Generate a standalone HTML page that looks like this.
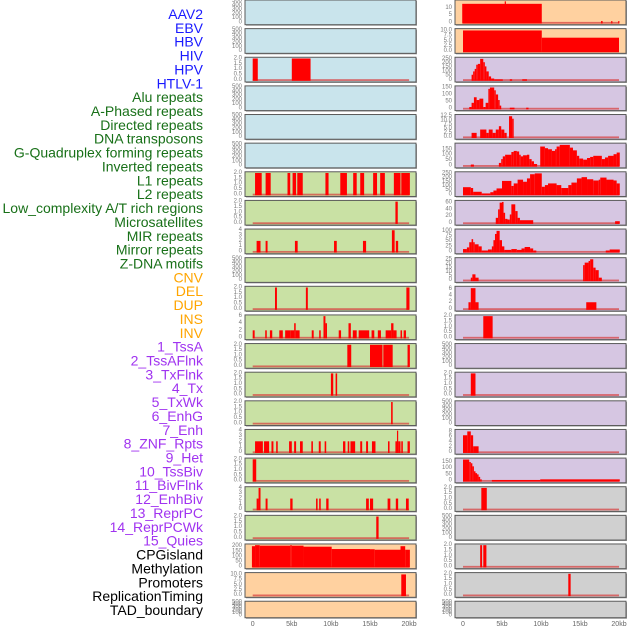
<!DOCTYPE html>
<html><head><meta charset="utf-8"><style>
html,body{margin:0;padding:0;background:#fff;}
svg{display:block;font-family:"Liberation Sans",sans-serif;}
</style></head><body>
<svg id="chart" width="630" height="630" viewBox="0 0 630 630"></svg>
<script>
// ---- labels ----
const trackLabels = ["AAV2","EBV","HBV","HIV","HPV","HTLV-1","Alu repeats","A-Phased repeats","Directed repeats","DNA transposons","G-Quadruplex forming repeats","Inverted repeats","L1 repeats","L2 repeats","Low_complexity A/T rich regions","Microsatellites","MIR repeats","Mirror repeats","Z-DNA motifs","CNV","DEL","DUP","INS","INV","1_TssA","2_TssAFlnk","3_TxFlnk","4_Tx","5_TxWk","6_EnhG","7_Enh","8_ZNF_Rpts","9_Het","10_TssBiv","11_BivFlnk","12_EnhBiv","13_ReprPC","14_ReprPCWk","15_Quies","CPGisland","Methylation","Promoters","ReplicationTiming","TAD_boundary"];
const labelGroups = ["v","v","v","v","v","v","r","r","r","r","r","r","r","r","r","r","r","r","r","s","s","s","s","s","c","c","c","c","c","c","c","c","c","c","c","c","c","c","c","o","o","o","o","o"];
const xTickLabels = ["0","5kb","10kb","15kb","20kb"];
const xTickValues = [0,5,10,15,20];

// ---- data: segments [startKb, endKb, value] ----
const L0=[],L1=[],L3=[],L4=[],L5=[],L9=[],L21=[];
const L2=[[0,0.65,2],[5.0,7.4,2]];
const L6=[[0.3,1.15,2],[1.65,2.3,2],[4.45,4.8,2],[5.1,5.55,2],[5.7,6.4,2],[9.3,9.7,2],[11.2,12.05,2],[12.85,13.3,2],[13.75,14.25,2],[15.4,15.9,2],[16.3,16.9,2],[18.05,18.9,2],[19.0,20.1,2]];
const L7=[[18.25,18.55,2]];
const L8=[[0.5,1.0,2],[1.65,1.9,2],[5.4,5.75,2],[10.4,10.75,2],[14.1,14.5,2],[17.8,18.15,4],[18.3,18.6,2]];
const L10=[[2.85,3.1,2],[6.8,7.05,2],[19.65,20.05,2]];
const L11=[[0,0.25,2],[1.6,1.8,2],[2.2,2.5,2],[3.4,3.85,2],[4.15,4.8,2],[4.8,5.3,2],[5.3,5.5,4],[5.5,6.0,2],[7.55,7.8,2],[8.5,8.7,2],[9.05,9.3,6],[9.3,9.5,4],[11.0,11.3,2],[12.25,12.55,4],[12.8,13.3,2],[13.55,14.9,2],[15.2,15.55,2],[16.0,16.4,2],[17.0,17.7,2],[17.7,18.0,4],[18.0,18.4,2],[18.9,19.1,2],[19.3,19.6,2]];
const L12=[[12.1,12.6,2],[15.0,16.6,2],[16.7,17.9,2],[19.8,20.1,2]];
const L13=[[10.0,10.3,2],[10.6,10.8,2]];
const L14=[[17.7,17.9,2]];
const L15=[[0.3,1.3,2],[1.45,2.1,2],[2.4,2.65,2],[3.0,3.2,2],[4.65,5.0,2],[5.3,5.55,2],[6.05,6.4,2],[7.5,7.7,2],[8.45,8.7,2],[9.2,9.4,2],[11.55,11.85,2],[12.15,12.35,2],[12.5,13.1,2],[13.75,14.0,2],[14.5,14.75,2],[15.25,15.7,2],[17.3,17.5,2],[18.25,18.45,2],[18.45,18.6,4],[18.6,18.9,2],[19.0,19.2,2],[19.8,20.1,2]];
const L16=[[0,0.45,2]];
const L17=[[0.5,0.75,2],[0.75,1.0,4],[1.65,1.9,2],[4.8,5.1,2],[8.1,8.3,2],[8.5,8.7,2],[9.4,9.7,2],[14.5,14.85,2],[15.0,15.4,2],[17.25,17.6,2],[18.3,18.6,2],[19.6,19.95,2]];
const L18=[[15.8,16.1,2]];
const L19=[[-0.1,0.3,200],[0.3,0.9,210],[0.9,4.8,205],[4.8,5.0,210],[5.0,6.5,205],[6.5,10.1,195],[10.1,15.0,172],[15.0,15.6,170],[15.6,18.9,165],[18.9,19.5,200],[19.5,20.1,165]];
const L20=[[19.0,19.6,10]];

const R12=[],R14=[],R18=[],R21=[];
const R0=[[-0.1,10.1,12.8],[5.35,5.45,14.5],[17.7,17.9,1],[19.0,19.15,1],[19.9,20.0,1]];
const R1=[[0,10.1,10],[10.1,20,6.5]];
const R2=[[1.1,1.3,60],[1.3,1.5,100],[1.5,1.7,130],[1.7,1.9,180],[1.9,2.2,190],[2.2,2.6,250],[2.6,2.8,210],[2.8,3.0,160],[3.0,3.3,100],[3.3,3.6,40],[3.6,4.0,15],[4.0,5.1,5],[6.0,6.3,6],[7.6,8.2,6]];
const R3=[[0.8,1.1,10],[1.1,1.4,40],[1.4,1.75,80],[1.75,2.1,60],[2.1,2.6,70],[2.6,2.9,10],[2.9,3.25,40],[3.25,3.45,140],[3.45,4.0,150],[4.0,4.2,130],[4.2,4.5,100],[4.5,4.7,60],[4.7,4.9,20],[6.0,6.6,5],[8.1,8.4,5]];
const R4=[[1.1,1.75,2.5],[2.2,3.0,4.5],[3.0,3.3,2.5],[3.3,3.8,4.5],[3.8,4.2,2.5],[4.2,4.6,4.5],[4.6,4.9,6.5],[4.9,5.3,4.5],[5.3,5.6,2.5],[5.9,6.3,12.5],[6.3,6.5,11]];
const R5=[[1.0,1.4,10],[4.6,4.9,25],[4.9,5.1,60],[5.1,5.4,85],[5.4,6.2,100],[6.2,6.5,125],[6.5,6.9,135],[6.9,7.2,130],[7.2,7.4,100],[7.4,7.7,85],[7.7,8.2,95],[8.2,8.5,100],[8.5,8.8,60],[8.8,9.1,40],[9.1,9.5,15],[9.9,10.5,175],[10.5,10.9,160],[10.9,11.4,150],[11.4,11.8,135],[11.8,12.0,150],[12.0,12.4,175],[12.4,13.7,190],[13.7,14.1,165],[14.1,14.6,140],[14.6,14.9,90],[14.9,15.4,65],[15.4,15.9,55],[15.9,16.3,70],[16.3,16.7,80],[16.7,17.8,90],[17.8,18.2,60],[18.2,18.6,75],[18.6,19.3,90],[19.3,19.7,105],[19.7,20.1,120]];
const R6=[[0,1.0,85],[1.0,1.3,75],[1.3,2.4,30],[2.4,3.5,10],[3.5,3.9,25],[3.9,4.3,45],[4.3,5.0,70],[5.0,6.2,160],[6.2,6.5,100],[6.5,7.0,130],[7.0,7.7,175],[7.7,8.2,150],[8.2,8.6,190],[8.6,9.2,240],[9.2,10.1,250],[10.1,10.5,90],[10.5,10.9,110],[10.9,12.0,130],[12.0,12.6,110],[12.6,13.5,75],[13.5,13.9,110],[13.9,14.6,140],[14.6,15.2,190],[15.2,15.9,205],[15.9,16.7,180],[16.7,17.4,165],[17.4,17.6,175],[17.6,18.4,200],[18.4,19.3,175],[19.3,19.7,165],[19.7,20.1,130]];
const R7=[[4.2,4.5,15],[4.5,4.7,40],[4.7,5.0,60],[5.0,5.2,62],[5.2,5.4,30],[5.4,5.7,12],[5.7,6.0,10],[6.0,6.2,25],[6.2,6.7,55],[6.7,7.0,35],[7.0,7.3,15],[7.3,9.0,8],[19.5,20.1,5]];
const R8=[[0,0.5,12],[0.5,0.8,20],[0.8,1.1,45],[1.1,1.3,60],[1.3,1.5,45],[1.5,2.0,35],[2.0,2.4,25],[2.4,3.2,5],[3.2,3.7,10],[3.7,3.9,25],[3.9,4.1,55],[4.1,4.3,85],[4.3,4.7,100],[4.7,5.0,55],[5.0,5.3,25],[5.3,6.2,8],[6.2,6.9,12],[6.9,7.5,8],[7.5,7.9,15],[7.9,8.6,22],[8.6,9.0,15],[9.0,9.4,5],[18.3,18.8,5],[18.8,20.1,10]];
const R9=[[1.0,1.2,3],[1.2,1.6,7],[1.6,2.0,3],[15.4,15.6,18],[15.6,16.1,21],[16.1,16.3,23],[16.3,16.7,25],[16.7,17.0,15],[17.0,17.4,12],[17.4,17.8,3]];
const R10=[[0.7,1.0,2],[1.0,1.6,6.3],[1.6,2.0,2],[15.8,17.1,2]];
const R11=[[2.6,3.8,2]];
const R13=[[1.0,1.6,2]];
const R15=[[0,0.55,6.5],[0.55,1.0,8],[1.0,1.3,6.5],[1.3,2.0,2.2]];
const R16=[[0,0.8,170],[0.8,1.0,150],[1.0,1.2,140],[1.2,1.4,115],[1.4,1.6,75],[1.6,1.8,60],[1.8,2.0,50],[2.0,2.2,30],[2.2,2.4,10],[3.7,9.9,5],[9.9,20.1,10]];
const R17=[[2.35,3.05,2]];
const R19=[[2.2,2.45,2],[2.6,3.0,2]];
const R20=[[13.5,13.8,2]];

// ---- y tick labels ----
const T500=[0,100,200,300,400,500], T2=["0.0","0.5","1.0","1.5","2.0"], T4=[0,1,2,3,4], T6=[0,2,4,6];
const leftMax=[500,500,2,500,500,500,2,2,4,500,2,6,2,2,2,4,2,4,2,210,10.3,500];
const leftTicks=[T500,T500,T2,T500,T500,T500,T2,T2,T4,T500,T2,T6,T2,T2,T2,T4,T2,T4,T2,[0,50,100,150,200],["0.0","2.5","5.0","7.5","10.0"],T500];
const leftData=[L0,L1,L2,L3,L4,L5,L6,L7,L8,L9,L10,L11,L12,L13,L14,L15,L16,L17,L18,L19,L20,L21];
const leftFill=["b","b","b","b","b","b","g","g","g","g","g","g","g","g","g","g","g","g","g","o","o","o"];
const rightMax=[14.6,10.3,255,153,12.8,195,255,63,103,25.5,6.5,2,500,2,500,8.3,172,2,500,2,2,500];
const rightTicks=[[0,5,10],["0.0","2.5","5.0","7.5","10.0"],[0,50,100,150,200,250],[0,50,100,150],["0.0","2.5","5.0","7.5","10.0","12.5"],[0,50,100,150],[0,50,100,150,200,250],[0,20,40,60],[0,25,50,75,100],[0,5,10,15,20,25],T6,T2,T500,T2,T500,[0,2,4,6,8],[0,50,100,150],T2,T500,T2,T2,T500];
const rightData=[R0,R1,R2,R3,R4,R5,R6,R7,R8,R9,R10,R11,R12,R13,R14,R15,R16,R17,R18,R19,R20,R21];
const rightFill=["o","o","p","p","p","p","p","p","p","p","p","p","p","p","p","p","p","g2","g2","g2","g2","g2"];

const NS="http://www.w3.org/2000/svg";
const svg=document.getElementById('chart');
function mk(tag,attrs,parent){const e=document.createElementNS(NS,tag);for(const k in attrs)e.setAttribute(k,attrs[k]);(parent||svg).appendChild(e);return e;}
const fills={b:"#c9e4ec",g:"#c9e1a4",o:"#ffd1a0",p:"#d6c6e2",g2:"#d0d0d0"};
const labelColors={v:"#1a1aff",r:"#187018",s:"#ffa500",c:"#a033f0",o:"#000"};

// labels
trackLabels.forEach((t,i)=>{
  const el=mk('text',{x:203,y:14+i*13.86,'text-anchor':'end','dominant-baseline':'central','font-size':'14',fill:labelColors[labelGroups[i]]});
  el.textContent=t;
  
  
});

function drawPanel(col,i,data,ymax,ticks,fillKey){
  const px = col===0?245:455, pw=171;
  const x0 = col===0?252.7:463, kbw = col===0?7.82:7.8;
  const top = 28.63*i, h = (i===21)?16.5:24.7;
  const g=mk('g',{});
  
  
  mk('rect',{x:px+1,y:top+1,width:pw,height:h,fill:'#999'},g);
  const bg=mk('rect',{x:px,y:top,width:pw,height:h,fill:fills[fillKey],stroke:'#5a5a5a','stroke-width':1},g);
  
  
  const yb=top+h-2.2, yt=top+1.2;
  const yS=v=>yb-(v/ymax)*(yb-yt);
  const xS=kb=>x0+kb*kbw;
  if(data.length){
    const bl=mk('rect',{x:xS(0),y:yb-0.6,width:xS(20)-xS(0),height:1.8,fill:'rgba(215,60,60,0.7)'},g);
    
    
  }
  data.forEach(d=>{
    const xa=Math.max(px+0.5,xS(d[0])), xb=Math.min(px+pw-0.5,xS(d[1]));
    const ya=Math.max(top+0.5,yS(d[2]));
    const r=mk('rect',{x:xa,y:ya,width:Math.max(1.2,xb-xa),height:yb+1-ya,fill:'#ff0000'},g);
    
    
  });
  ticks.forEach(t=>{
    const v=parseFloat(t);
    const ty=yS(v);
    if(ty<top-3) return;
    const tx=mk('text',{x:px-3,y:ty,'text-anchor':'end','dominant-baseline':'central','font-size':'6',fill:'#7a7a7a'},g);
    tx.textContent=String(t);
    
    
  });
}
for(let i=0;i<22;i++){
  drawPanel(0,i,leftData[i],leftMax[i],leftTicks[i],leftFill[i]);
  drawPanel(1,i,rightData[i],rightMax[i],rightTicks[i],rightFill[i]);
}
// x axes
[[252.7,7.82],[463,7.8]].forEach((c,ci)=>{
  xTickValues.forEach((v,k)=>{
    const t=mk('text',{x:c[0]+v*c[1],y:626,'text-anchor':'middle','font-size':'7',fill:'#666'});
    t.textContent=xTickLabels[k];
    
    
  });
});
</script>
</body></html>
